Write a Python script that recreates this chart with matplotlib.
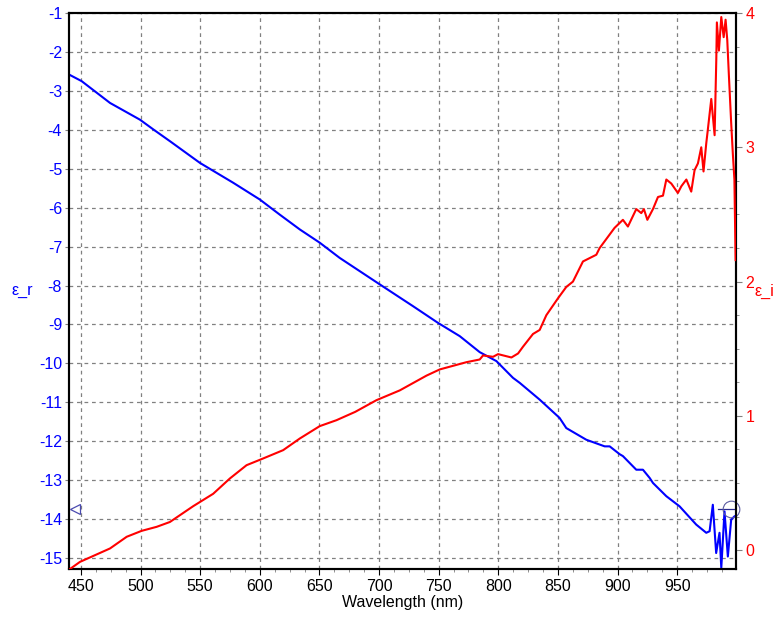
import matplotlib
matplotlib.use("Agg")
import matplotlib.pyplot as plt
from matplotlib.ticker import MultipleLocator

plt.rcParams['font.family'] = ['Liberation Sans', 'DejaVu Sans']
plt.rcParams['axes.unicode_minus'] = False

# eps_r (blue, left axis)
wl_r = [440, 450.6, 474.4, 499.5, 510.7, 525, 549.8, 577.7, 600, 616.8, 633.6, 650.3, 667,
        700.6, 728.5, 749.5, 767.7, 784.4, 798.4, 812.3, 818, 834.7, 851.4, 857, 873.8,
        889.2, 893.4, 901.7, 904.5, 915.7, 921.3, 926.9, 929.7, 940.9, 952, 966, 974.4,
        977.2, 979.9, 982.7, 985.5, 987, 989.7, 992.5, 995.3, 998]
eps_r = [-2.58, -2.75, -3.31, -3.74, -3.99, -4.3, -4.85, -5.36, -5.79, -6.18, -6.56, -6.90, -7.29,
         -7.97, -8.53, -8.96, -9.30, -9.71, -9.94, -10.37, -10.50, -10.93, -11.40, -11.66, -11.96,
         -12.13, -12.13, -12.33, -12.38, -12.73, -12.73, -12.94, -13.07, -13.41, -13.67, -14.14, -14.35,
         -14.31, -13.63, -14.87, -14.35, -15.25, -13.80, -14.96, -14.01, -13.93]

# eps_i (red, right axis)
wl_i = [440.8, 449.2, 474.4, 488.4, 500.9, 513.5, 524.6, 544.2, 560.9, 574.9, 588.9, 602.8,
        619.6, 633.6, 650.3, 664.3, 680, 697.8, 717.4, 739.8, 750.9, 773.3, 784.4, 787.2, 795.6,
        799.8, 811, 816.6, 820.7, 829.1, 834.7, 840.3, 850, 857, 862.6, 871, 882.2, 885,
        897.5, 904.5, 908.7, 915.7, 919.9, 922.1, 925, 929.7, 933.9, 938.1, 940.9, 945.1,
        950.6, 953.5, 957.7, 961.8, 964.6, 967.4, 970.2, 972.1, 974.4, 975.7, 978.6, 981.4,
        982.8, 983.3, 985, 987, 989, 990.6, 992, 993.4, 995.3, 996.7, 998, 999]
eps_i = [-0.14, -0.087, 0.013, 0.10, 0.144, 0.174, 0.21, 0.328, 0.42, 0.534, 0.633, 0.683,
         0.745, 0.832, 0.924, 0.968, 1.03, 1.117, 1.19, 1.30, 1.346, 1.40, 1.42, 1.45, 1.44,
         1.46, 1.435, 1.465, 1.515, 1.61, 1.64, 1.75, 1.875, 1.96, 2.00, 2.15, 2.20, 2.25,
         2.40, 2.46, 2.41, 2.54, 2.51, 2.54, 2.46, 2.54, 2.63, 2.64, 2.76, 2.73,
         2.66, 2.71, 2.76, 2.67, 2.83, 2.88, 3.00, 2.82, 3.03, 3.13, 3.36, 3.09,
         3.65, 3.93, 3.72, 3.97, 3.82, 3.95, 3.80, 3.53, 3.18, 2.95, 2.76, 2.16]

x_ticks = [450, 500, 550, 600, 650, 700, 750, 800, 850, 900, 950]
left_ticks = list(range(-15, 0))
right_ticks = [0, 1, 2, 3, 4]

BLUE = '#0000ff'
RED = '#ff0000'
FS = 11.5

fig = plt.figure(figsize=(7.76, 6.17), dpi=100)
ax = fig.add_axes([69/776, 48/617, (735.6-69)/776, (569-13)/617])
ax2 = ax.twinx()

ax.plot(wl_r, eps_r, color=BLUE, lw=1.5, zorder=3)
ax2.plot(wl_i, eps_i, color=RED, lw=1.5, zorder=3)

ax.set_xlim(440, 999)
ax.set_ylim(-15.28, -1)
ax2.set_ylim(-0.14, 4)

ax.set_xticks(x_ticks)
ax.xaxis.set_minor_locator(MultipleLocator(12.5))
ax.set_yticks(left_ticks)
ax2.set_yticks(right_ticks)
ax2.yaxis.set_minor_locator(MultipleLocator(0.25))

ax.grid(True, which='major', color='#808080', linestyle=(0, (3, 3)), linewidth=0.9)
ax.set_axisbelow(True)

ax.tick_params(axis='x', which='major', direction='out', length=4, colors='black',
               labelsize=FS, pad=3)
ax.tick_params(axis='x', which='minor', direction='out', length=2, color='#808080')
ax.tick_params(axis='y', which='major', direction='out', length=3, color='#808080',
               labelcolor=BLUE, labelsize=FS, pad=2)
ax2.tick_params(axis='y', which='major', direction='out', length=4, color='#808080',
                labelcolor=RED, labelsize=FS, pad=3)
ax2.tick_params(axis='y', which='minor', direction='out', length=2, color='#808080')

for a in (ax, ax2):
    for s in a.spines.values():
        s.set_color('black')
        s.set_linewidth(1.5)

ax.set_xlabel('Wavelength (nm)', fontsize=FS, labelpad=1)
fig.text(22/776, 1 - 291/617, 'ε_r', color=BLUE, fontsize=FS, ha='center', va='center')
fig.text(764/776, 1 - 291/617, 'ε_i', color=RED, fontsize=FS, ha='center', va='center')

# cursor markers
ax.plot([445], [-13.75], marker='<', markersize=7, markerfacecolor='none',
        markeredgecolor='#4b4bb0', markeredgewidth=0.9, clip_on=False, zorder=5)
ax.plot([984, 999], [-13.75, -13.75], color='#2a2a90', lw=0.9, zorder=5)
ax.plot([995.5], [-13.75], marker='o', markersize=12, markerfacecolor='none',
        markeredgecolor='#5a5aa0', markeredgewidth=0.8, clip_on=False, zorder=5)

fig.savefig('out.png', dpi=100)
